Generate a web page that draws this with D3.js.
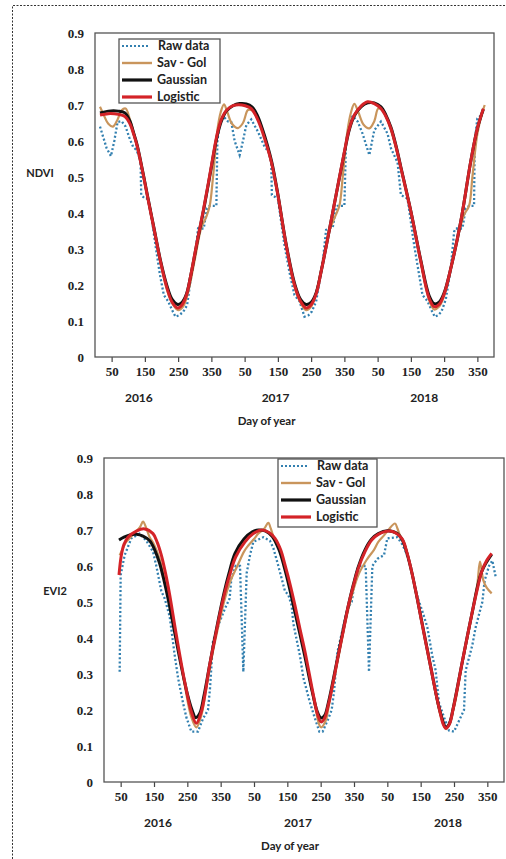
<!DOCTYPE html>
<html>
<head>
<meta charset="utf-8">
<script src="https://cdnjs.cloudflare.com/ajax/libs/d3/7.8.5/d3.min.js"></script>
<style>
    body { margin: 0; background: #fff; }
    svg { display: block; }
</style>
</head>
<body>
<div id="figure"></div>
<script>
// x runs over three seasons in one continuous "day" scale, 400 units per year
var xTicks = [50, 150, 250, 350, 450, 550, 650, 750, 850, 950, 1050, 1150];
var xTickLabels = ["50", "150", "250", "350", "50", "150", "250", "350", "50", "150", "250", "350"];
var yTicks = [0, 0.1, 0.2, 0.3, 0.4, 0.5, 0.6, 0.7, 0.8, 0.9];
var years = ["2016", "2017", "2018"];
var seriesNames = ["Raw data", "Sav - Gol", "Gaussian", "Logistic"];

// NDVI panel
var ndviRaw = [[15,0.64],[25,0.61],[35,0.58],[48,0.558],[58,0.6],[68,0.653],[80,0.655],[92,0.64],[103,0.61],[115,0.583],[125,0.575],[137,0.545],[139,0.45],[150,0.44],[160,0.44],[165,0.42],[182,0.31],[195,0.23],[207,0.172],[220,0.155],[232,0.13],[242,0.112],[253,0.116],[265,0.125],[277,0.144],[287,0.21],[302,0.29],[310,0.357],[327,0.357],[337,0.413],[345,0.42],[365,0.42],[368,0.6],[375,0.65],[385,0.67],[400,0.654],[410,0.652],[420,0.6],[435,0.561],[445,0.6],[455,0.644],[470,0.66],[490,0.626],[510,0.584],[522,0.57],[530,0.54],[532,0.45],[550,0.44],[570,0.31],[585,0.235],[600,0.172],[615,0.155],[630,0.112],[642,0.116],[652,0.126],[665,0.154],[685,0.265],[695,0.353],[715,0.36],[725,0.413],[730,0.42],[750,0.42],[755,0.6],[765,0.65],[775,0.67],[790,0.654],[805,0.62],[815,0.59],[825,0.561],[840,0.63],[860,0.654],[880,0.62],[890,0.58],[910,0.54],[920,0.45],[940,0.44],[960,0.31],[985,0.172],[1000,0.155],[1012,0.13],[1022,0.112],[1032,0.116],[1042,0.126],[1055,0.16],[1070,0.246],[1080,0.348],[1085,0.357],[1105,0.357],[1115,0.413],[1125,0.42],[1140,0.42],[1142,0.6],[1150,0.663],[1160,0.67]];
var ndviSavGol = [[15,0.695],[25,0.675],[40,0.648],[54,0.64],[68,0.66],[80,0.685],[92,0.69],[105,0.66],[117,0.62],[137,0.543],[157,0.45],[177,0.358],[197,0.262],[217,0.185],[235,0.145],[250,0.13],[265,0.14],[280,0.18],[300,0.27],[320,0.36],[335,0.39],[345,0.42],[355,0.5],[368,0.63],[378,0.68],[388,0.702],[398,0.68],[412,0.648],[430,0.636],[445,0.65],[460,0.686],[472,0.685],[488,0.664],[503,0.63],[530,0.54],[550,0.45],[575,0.31],[600,0.195],[620,0.148],[635,0.13],[650,0.14],[665,0.18],[685,0.26],[705,0.35],[722,0.39],[735,0.42],[745,0.5],[758,0.62],[770,0.68],[780,0.703],[792,0.68],[808,0.645],[825,0.635],[840,0.655],[852,0.69],[865,0.685],[890,0.63],[920,0.525],[950,0.404],[980,0.262],[1005,0.158],[1020,0.132],[1035,0.14],[1050,0.17],[1070,0.244],[1090,0.33],[1110,0.395],[1125,0.42],[1135,0.5],[1150,0.62],[1165,0.68],[1172,0.7]];
var ndviGaussian = [[15,0.678],[40,0.683],[70,0.683],[90,0.678],[105,0.655],[117,0.62],[127,0.588],[137,0.545],[147,0.5],[157,0.452],[177,0.36],[197,0.268],[217,0.196],[232,0.16],[249,0.146],[262,0.152],[275,0.175],[287,0.222],[307,0.318],[327,0.41],[347,0.512],[367,0.612],[380,0.655],[395,0.683],[415,0.698],[435,0.704],[455,0.703],[472,0.695],[488,0.672],[503,0.635],[518,0.59],[532,0.54],[550,0.452],[575,0.313],[600,0.205],[618,0.16],[635,0.146],[650,0.152],[665,0.178],[680,0.237],[700,0.33],[725,0.45],[750,0.568],[765,0.632],[780,0.67],[800,0.695],[820,0.706],[840,0.706],[860,0.695],[875,0.672],[890,0.638],[905,0.588],[920,0.527],[950,0.405],[980,0.268],[1005,0.17],[1020,0.148],[1035,0.152],[1050,0.178],[1070,0.246],[1100,0.376],[1130,0.543],[1150,0.635],[1168,0.688]];
var ndviLogistic = [[15,0.672],[40,0.676],[70,0.674],[90,0.668],[105,0.648],[117,0.617],[127,0.585],[137,0.543],[147,0.497],[157,0.45],[177,0.358],[197,0.265],[217,0.19],[232,0.152],[249,0.136],[262,0.145],[275,0.172],[287,0.222],[307,0.32],[327,0.413],[347,0.515],[367,0.617],[380,0.66],[395,0.685],[415,0.698],[432,0.701],[452,0.698],[470,0.69],[485,0.668],[500,0.635],[515,0.592],[530,0.543],[550,0.45],[575,0.31],[600,0.2],[618,0.155],[635,0.136],[650,0.145],[665,0.175],[680,0.237],[700,0.33],[725,0.45],[750,0.57],[765,0.635],[780,0.672],[800,0.697],[820,0.709],[840,0.704],[860,0.69],[875,0.668],[890,0.635],[905,0.585],[920,0.525],[950,0.404],[980,0.265],[1005,0.163],[1020,0.14],[1035,0.146],[1050,0.175],[1070,0.246],[1100,0.376],[1130,0.543],[1150,0.635],[1168,0.69]];

// EVI2 panel
var evi2Raw = [[47,0.306],[50,0.575],[62,0.63],[82,0.677],[107,0.69],[127,0.67],[147,0.64],[157,0.6],[172,0.53],[182,0.51],[197,0.46],[212,0.353],[222,0.29],[237,0.22],[247,0.18],[262,0.14],[282,0.14],[297,0.176],[312,0.2],[318,0.26],[327,0.39],[345,0.44],[362,0.48],[377,0.51],[382,0.565],[395,0.6],[408,0.6],[418,0.306],[428,0.58],[438,0.63],[448,0.667],[478,0.68],[498,0.67],[508,0.65],[523,0.6],[543,0.53],[553,0.52],[563,0.49],[568,0.44],[588,0.35],[598,0.29],[618,0.22],[633,0.176],[646,0.14],[656,0.14],[673,0.176],[683,0.2],[690,0.25],[700,0.36],[715,0.42],[730,0.48],[743,0.5],[753,0.56],[763,0.6],[785,0.6],[795,0.306],[805,0.6],[820,0.62],[840,0.63],[850,0.677],[880,0.68],[895,0.66],[905,0.64],[920,0.6],[935,0.53],[960,0.46],[970,0.43],[985,0.35],[995,0.31],[1005,0.22],[1020,0.18],[1035,0.143],[1050,0.14],[1070,0.18],[1080,0.2],[1085,0.31],[1105,0.38],[1115,0.43],[1135,0.5],[1142,0.56],[1155,0.6],[1165,0.615],[1175,0.57]];
var evi2SavGol = [[47,0.63],[55,0.645],[65,0.665],[80,0.68],[95,0.695],[108,0.708],[117,0.723],[127,0.705],[137,0.68],[150,0.66],[165,0.625],[180,0.57],[197,0.5],[217,0.4],[242,0.27],[262,0.18],[277,0.152],[292,0.185],[305,0.25],[320,0.33],[340,0.42],[360,0.5],[380,0.56],[400,0.6],[420,0.64],[433,0.657],[450,0.675],[463,0.69],[480,0.703],[493,0.72],[500,0.705],[508,0.683],[525,0.655],[543,0.6],[573,0.485],[603,0.355],[628,0.235],[651,0.152],[665,0.17],[673,0.205],[703,0.345],[733,0.48],[763,0.575],[790,0.62],[810,0.645],[823,0.667],[840,0.685],[853,0.7],[873,0.718],[880,0.705],[888,0.685],[900,0.665],[923,0.584],[953,0.445],[983,0.306],[1008,0.19],[1026,0.147],[1048,0.2],[1073,0.32],[1103,0.46],[1120,0.55],[1128,0.612],[1138,0.56],[1148,0.54],[1163,0.524]];
var evi2Gaussian = [[45,0.672],[60,0.68],[80,0.687],[97,0.688],[117,0.683],[137,0.67],[152,0.645],[167,0.607],[180,0.56],[192,0.51],[210,0.425],[230,0.33],[250,0.245],[265,0.198],[275,0.179],[287,0.19],[300,0.24],[315,0.315],[330,0.39],[345,0.46],[360,0.525],[375,0.58],[393,0.635],[420,0.675],[445,0.695],[463,0.7],[485,0.697],[505,0.682],[525,0.645],[540,0.6],[555,0.545],[570,0.483],[600,0.36],[625,0.25],[640,0.195],[651,0.178],[662,0.185],[673,0.22],[688,0.285],[703,0.355],[718,0.425],[733,0.49],[748,0.548],[763,0.598],[783,0.645],[803,0.675],[823,0.69],[850,0.698],[880,0.69],[895,0.672],[908,0.638],[923,0.584],[953,0.447],[983,0.306],[1008,0.197],[1026,0.152],[1036,0.162],[1048,0.207],[1073,0.325],[1103,0.464],[1133,0.584],[1163,0.632]];
var evi2Logistic = [[45,0.575],[52,0.63],[60,0.66],[72,0.68],[97,0.697],[122,0.703],[147,0.69],[160,0.665],[172,0.63],[185,0.578],[197,0.52],[217,0.408],[242,0.279],[262,0.195],[277,0.163],[292,0.195],[305,0.255],[317,0.325],[332,0.395],[347,0.464],[362,0.525],[377,0.575],[395,0.625],[423,0.667],[448,0.69],[473,0.7],[495,0.693],[513,0.677],[530,0.645],[543,0.603],[558,0.55],[573,0.49],[588,0.425],[603,0.362],[628,0.242],[640,0.19],[651,0.167],[662,0.178],[673,0.214],[688,0.28],[703,0.353],[718,0.42],[733,0.49],[748,0.545],[763,0.594],[783,0.64],[803,0.672],[823,0.688],[858,0.697],[893,0.677],[908,0.64],[923,0.584],[938,0.518],[953,0.445],[968,0.375],[983,0.306],[996,0.245],[1008,0.195],[1018,0.16],[1026,0.149],[1036,0.16],[1048,0.205],[1060,0.26],[1073,0.325],[1088,0.395],[1103,0.464],[1118,0.528],[1133,0.584],[1148,0.615],[1163,0.635]];

var W = 506, H = 859;
var colors = { raw: "#3380b0", sav: "#c9955c", gau: "#111111", log: "#d42328" };
var sansFont = "Lato, 'Open Sans', sans-serif";
var serifFont = "'Liberation Serif', 'DejaVu Serif', serif";

var svg = d3.select("#figure")
    .append("svg")
    .attr("width", W)
    .attr("height", H);

svg.append("rect")
    .attr("width", W)
    .attr("height", H)
    .attr("fill", "#fff");

// dashed frame round the figure
svg.append("path")
    .attr("d", "M12.5," + H + "V5.5H" + W)
    .attr("fill", "none")
    .attr("stroke", "#333")
    .attr("stroke-width", 1)
    .attr("stroke-dasharray", "2,1.5");

var drawPanel = function (cfg) {
    var x = d3.scaleLinear().domain([0, 1200]).range([cfg.left, cfg.right]),
        y = d3.scaleLinear().domain([0, 0.9]).range([cfg.bottom, cfg.top]),
        g = svg.append("g");

    var line = d3.line()
        .x(function (d) { return x(d[0]); })
        .y(function (d) { return y(d[1]); });

    var smooth = d3.line()
        .x(function (d) { return x(d[0]); })
        .y(function (d) { return y(d[1]); })
        .curve(d3.curveCatmullRom.alpha(0.5));

    // x axis ticks and labels
    var xAxis = d3.axisBottom(x)
        .tickValues(xTicks)
        .tickSize(5)
        .tickFormat(function (d, i) { return xTickLabels[i]; });

    var ax = g.append("g")
        .attr("transform", "translate(0," + cfg.bottom + ")")
        .call(xAxis);
    ax.select(".domain").remove();
    ax.selectAll(".tick line").attr("stroke", "#444").attr("stroke-width", 1.2);
    ax.selectAll(".tick text")
        .attr("y", 10)
        .attr("font-family", serifFont)
        .attr("font-weight", "bold")
        .attr("font-size", 13)
        .attr("fill", "#222");

    var yAxis = d3.axisLeft(y)
        .tickValues(yTicks)
        .tickSize(0)
        .tickPadding(11)
        .tickFormat(function (d) { return d === 0 ? "0" : d.toFixed(1); });

    var ay = g.append("g")
        .attr("transform", "translate(" + cfg.left + ",0)")
        .call(yAxis);
    ay.select(".domain").remove();
    ay.selectAll(".tick text")
        .attr("font-family", serifFont)
        .attr("font-weight", "bold")
        .attr("font-size", 13)
        .attr("fill", "#222");

    // series
    g.append("path")
        .datum(cfg.raw)
        .attr("d", line)
        .attr("fill", "none")
        .attr("stroke", colors.raw)
        .attr("stroke-width", 2.3)
        .attr("stroke-dasharray", "2,2.2");

    [[cfg.sav, colors.sav, 2.2], [cfg.gau, colors.gau, 3], [cfg.log, colors.log, 3]].forEach(function (s) {
        g.append("path")
            .datum(s[0])
            .attr("d", smooth)
            .attr("fill", "none")
            .attr("stroke", s[1])
            .attr("stroke-width", s[2])
            .attr("stroke-linejoin", "round");
    });

    // plot frame
    g.append("rect")
        .attr("x", cfg.left)
        .attr("y", cfg.top)
        .attr("width", cfg.right - cfg.left)
        .attr("height", cfg.bottom - cfg.top)
        .attr("fill", "none")
        .attr("stroke", "#555")
        .attr("stroke-width", 1.3);

    // year labels
    g.selectAll(".year")
        .data(years)
        .enter()
        .append("text")
        .attr("class", "year")
        .attr("x", function (d, i) { return x(cfg.yearAt[i]); })
        .attr("y", cfg.bottom + 45)
        .attr("text-anchor", "middle")
        .attr("font-family", sansFont)
        .attr("font-weight", "bold")
        .attr("font-size", 12)
        .attr("fill", "#222")
        .text(function (d) { return d; });

    g.append("text")
        .attr("x", x(cfg.titleAt))
        .attr("y", cfg.bottom + 68)
        .attr("text-anchor", "middle")
        .attr("font-family", sansFont)
        .attr("font-weight", "bold")
        .attr("font-size", 11.5)
        .attr("fill", "#222")
        .text("Day of year");

    g.append("text")
        .attr("x", cfg.yLabelX)
        .attr("y", y(cfg.yLabelAt))
        .attr("dy", "0.35em")
        .attr("text-anchor", "middle")
        .attr("font-family", sansFont)
        .attr("font-weight", "bold")
        .attr("font-size", 11)
        .attr("fill", "#222")
        .text(cfg.yLabel);

    // legend
    var lg = g.append("g").attr("transform", "translate(" + cfg.legend[0] + "," + cfg.legend[1] + ")");
    lg.append("rect")
        .attr("width", cfg.legend[2])
        .attr("height", cfg.legend[3])
        .attr("fill", "#fff")
        .attr("stroke", "#555")
        .attr("stroke-width", 1.3);

    var keys = ["raw", "sav", "gau", "log"];
    var items = lg.selectAll(".item")
        .data(seriesNames)
        .enter()
        .append("g")
        .attr("transform", function (d, i) { return "translate(0," + (7 + i * 17) + ")"; });

    items.append("line")
        .attr("x1", 3)
        .attr("x2", function (d, i) { return i === 0 ? 30 : 33; })
        .attr("stroke", function (d, i) { return colors[keys[i]]; })
        .attr("stroke-width", function (d, i) { return i === 0 ? 2 : (i === 1 ? 2.4 : 3.2); })
        .attr("stroke-dasharray", function (d, i) { return i === 0 ? "2,2" : null; });

    items.append("text")
        .attr("x", function (d, i) { return i === 0 ? 39 : 38; })
        .attr("dy", "0.35em")
        .attr("font-family", sansFont)
        .attr("font-weight", "bold")
        .attr("font-size", 12.5)
        .attr("fill", "#222")
        .text(function (d) { return d; });
};

drawPanel({
    left: 95, right: 494, top: 33, bottom: 357,
    raw: ndviRaw, sav: ndviSavGol, gau: ndviGaussian, log: ndviLogistic,
    yearAt: [132, 543, 990], titleAt: 516,
    yLabel: "NDVI", yLabelX: 40, yLabelAt: 0.51,
    legend: [119, 39, 101, 64]
});

drawPanel({
    left: 104, right: 504, top: 458, bottom: 782,
    raw: evi2Raw, sav: evi2SavGol, gau: evi2Gaussian, log: evi2Logistic,
    yearAt: [162, 582, 1032], titleAt: 558,
    yLabel: "EVI2", yLabelX: 55, yLabelAt: 0.53,
    legend: [278, 459, 99, 68]
});
</script>
</body>
</html>
